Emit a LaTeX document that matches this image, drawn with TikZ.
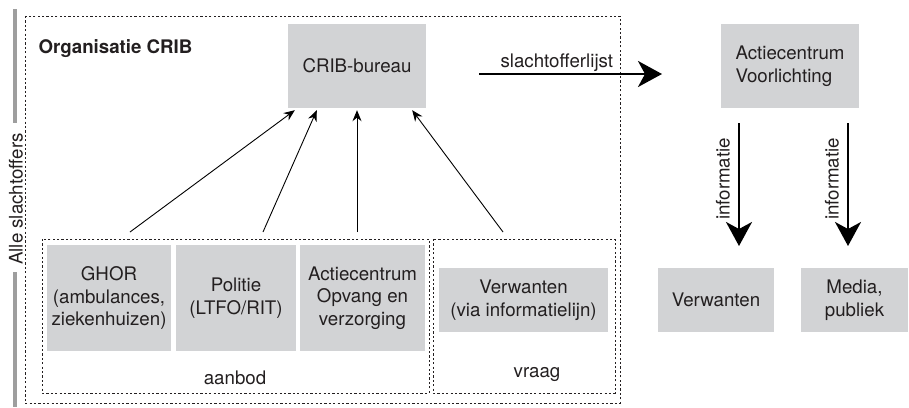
\documentclass[tikz,border=0pt]{standalone}
\usepackage{fontspec}
\setmainfont{TeX Gyre Heros}
\usetikzlibrary{arrows.meta,calc}
\definecolor{boxgray}{RGB}{210,211,213}
\definecolor{bargray}{RGB}{158,158,158}
\definecolor{ink}{RGB}{35,31,32}
\begin{document}
\begin{tikzpicture}[x=1pt,y=-1pt,
  font=\fontsize{18.7}{22.5}\selectfont, text=ink,
  graybox/.style={fill=boxgray, inner sep=0pt, align=center},
  frame/.style={draw=ink, line width=0.9pt, dash pattern=on 2.2pt off 2.2pt},
  feed/.style={draw=black, line width=0.9pt, -{Stealth[length=11pt,width=9pt]}},
  bigarrow/.style={draw=black, line width=2.3pt, -{Stealth[length=24pt,width=26pt,inset=7pt]}},
  bar/.style={draw=bargray, line width=4.5pt}]
\useasboundingbox (0,0) rectangle (909,407);

% side bar with the overall label
\draw[bar] (15,9) -- (15,123);
\draw[bar] (15,272) -- (15,407);
\node[rotate=90, anchor=base] (alle) at (22.5,199) {Alle slachtoffers};

% organisation frame and its two groups
\draw[frame] (25,16) rectangle (620,403);
\draw[frame] (42,239) rectangle (429,393);
\draw[frame] (433,239) rectangle (615,393);
\node[anchor=base west, font=\fontsize{18.7}{22.5}\selectfont\bfseries] (org) at (35,53) {Organisatie CRIB};
\node[anchor=base] (aanbod) at (235,384) {aanbod};
\node[anchor=base] (vraag) at (537,377) {vraag};

% boxes
\node[graybox, minimum width=138pt, minimum height=84pt] (crib) at (357,66) {CRIB-bureau};
\node[graybox, align=left, minimum width=138pt, minimum height=84pt] (acv) at (790,66) {Actiecentrum\\Voorlichting};
\node[graybox, minimum width=124pt, minimum height=106pt] (ghor) at (109,298) {GHOR\\(ambulances,\\ziekenhuizen)};
\node[graybox, minimum width=120pt, minimum height=106pt] (pol) at (236,298) {Politie\\(LTFO/RIT)};
\node[graybox, minimum width=125pt, minimum height=106pt] (opv) at (362.5,298) {Actiecentrum\\Opvang en\\verzorging};
\node[graybox, minimum width=169pt, minimum height=64pt] (verwvia) at (523.5,300) {Verwanten\\(via informatielijn)};
\node[graybox, minimum width=116pt, minimum height=64pt] (verw) at (716,300) {Verwanten};
\node[graybox, minimum width=107pt, minimum height=64pt] (media) at (854.5,300) {Media,\\publiek};

% reports flowing into the CRIB office
\coordinate (f1) at (130,232);
\coordinate (f2) at (263,232);
\coordinate (f3) at (357,232);
\coordinate (f4) at (503,232);
\draw[feed] (f1) -- ($(crib.south west)+(7,2)$);
\draw[feed] (f2) -- ($(crib.south west)+(29,2)$);
\draw[feed] (f3) -- ($(crib.south)+(0,2)$);
\draw[feed] (f4) -- ($(crib.south east)+(-14,2)$);

% casualty list to the information centre
\coordinate (s0) at (479,74);
\coordinate (s1) at (662,74);
\draw[bigarrow] (s0) -- (s1);
\node[anchor=base west] (lijst) at (497,67) {slachtofferlijst};

% information to relatives and the public
\coordinate (i1a) at (739,123);
\coordinate (i1b) at (739,246);
\coordinate (i2a) at (848,123);
\coordinate (i2b) at (848,246);
\draw[bigarrow] (i1a) -- (i1b);
\draw[bigarrow] (i2a) -- (i2b);
\node[rotate=90] (inf1) at (723,179) {informatie};
\node[rotate=90] (inf2) at (832,179) {informatie};
\end{tikzpicture}
\end{document}
